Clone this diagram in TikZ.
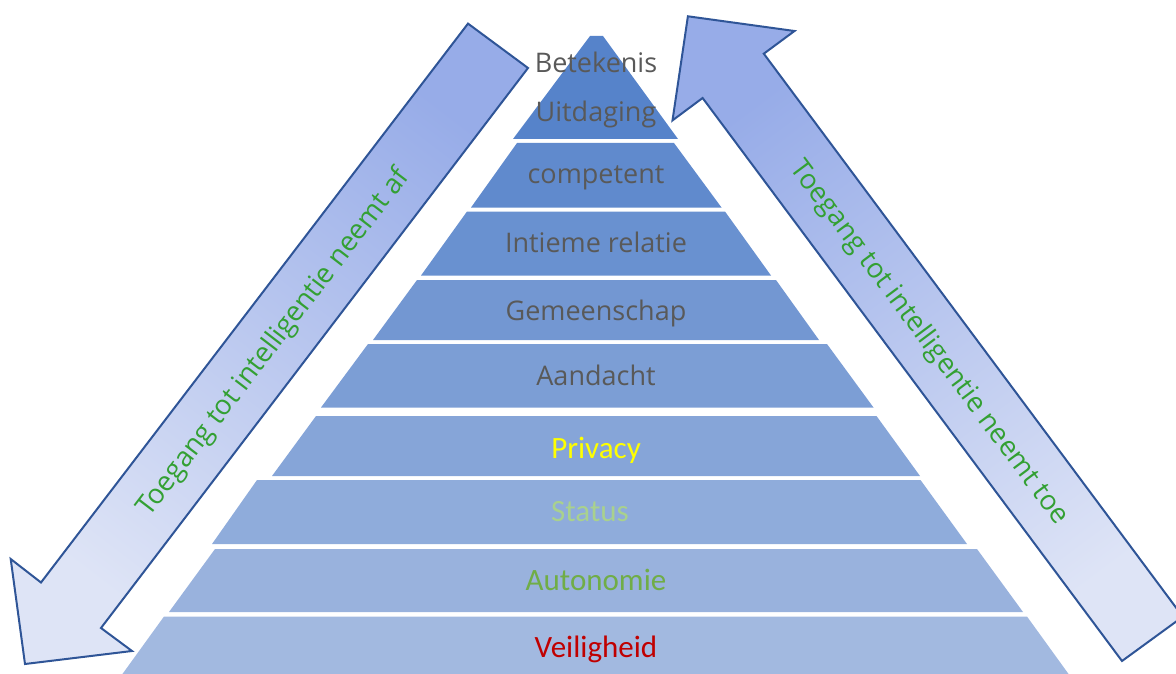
\documentclass[tikz,border=0pt]{standalone}
\usepackage{fontspec}
\newfontfamily\labfont{Open Sans}
\newfontfamily\calfontx{Carlito}
\definecolor{lA}{RGB}{86,131,202}
\definecolor{lB}{RGB}{96,138,205}
\definecolor{lC}{RGB}{105,145,208}
\definecolor{lD}{RGB}{115,151,210}
\definecolor{lE}{RGB}{124,158,213}
\definecolor{lF}{RGB}{134,165,216}
\definecolor{lG}{RGB}{143,172,219}
\definecolor{lH}{RGB}{153,178,221}
\definecolor{lI}{RGB}{162,185,224}
\definecolor{labgray}{RGB}{89,89,89}
\definecolor{agreen}{RGB}{51,160,51}
\definecolor{aline}{RGB}{47,85,151}
\definecolor{adark}{RGB}{151,172,232}
\definecolor{alight}{RGB}{222,228,246}
\definecolor{cyellow}{RGB}{255,255,0}
\definecolor{clgreen}{RGB}{169,209,142}
\definecolor{cgreen}{RGB}{112,173,71}
\definecolor{cred}{RGB}{192,0,0}
\begin{document}
\begin{tikzpicture}[x=1pt,y=-1pt,
  lab/.style={font=\labfont\fontsize{27}{30}\selectfont, text=labgray, anchor=base, inner sep=0pt},
  clab/.style={font=\calfontx\fontsize{31}{34}\selectfont, anchor=base, inner sep=0pt},
  arrowtext/.style={font=\labfont\fontsize{27.5}{30}\selectfont, text=agreen, inner sep=0pt},
  bigarrow/.style={draw=aline, line width=2pt, line join=miter}]
\useasboundingbox (0,0) rectangle (1176,674);
\clip (0,0) rectangle (1176,674);
% pyramid layers
\fill[lA] (590,36) -- (603,36) -- (678,139) -- (513,139) -- cycle;
\fill[lB] (517,143) -- (674,143) -- (721.5,207.5) -- (471,207.5) -- cycle;
\fill[lC] (467,211.5) -- (725,211.5) -- (771,275.5) -- (421,275.5) -- cycle;
\fill[lD] (417,280) -- (776,280) -- (819,340) -- (373,340) -- cycle;
\fill[lE] (368,344) -- (827,344) -- (873.5,407.5) -- (321,407.5) -- cycle;
\fill[lF] (316,416) -- (876.5,416) -- (920,476) -- (272,476) -- cycle;
\fill[lG] (257,480) -- (920.5,480) -- (967,544) -- (212,544) -- cycle;
\fill[lH] (215,549) -- (977,549) -- (1023,612) -- (169,612) -- cycle;
\fill[lI] (164,616.5) -- (1027,616.5) -- (1070,676) -- (121,676) -- cycle;
% left arrow (down-left)
\draw[bigarrow, top color=adark, bottom color=alight, shading angle=-37.4]
  (468,23.6) -- (528,68) -- (101,628) -- (132,651) -- (25,664) -- (10.7,559) -- (41,582.5) -- cycle;
% right arrow (up-left)
\draw[bigarrow, top color=adark, bottom color=alight, shading angle=36.7]
  (687.9,16.3) -- (794.5,31) -- (763.8,53.7) -- (1182.8,616.7) -- (1122,661) -- (702.6,98) -- (672.5,120.4) -- cycle;
% labels
\node[lab] (t1) at (596,72.5) {Betekenis};
\node[lab] (t2) at (596,121.5) {Uitdaging};
\node[lab] (t3) at (596,184) {competent};
\node[lab] (t4) at (596,252.5) {Intieme relatie};
\node[lab] (t5) at (596,320) {Gemeenschap};
\node[lab] (t6) at (596,385) {Aandacht};
\node[clab, text=cyellow] (t7) at (596,458) {Privacy};
\node[clab, text=clgreen] (t8) at (590,521) {Status};
\node[clab, text=cgreen] (t9) at (596,590.5) {Autonomie};
\node[clab, text=cred] (t10) at (596,657) {Veiligheid};
% arrow texts
\node[arrowtext, rotate=52.6] (la) at (274,343) {Toegang tot intelligentie neemt af};
\node[arrowtext, rotate=-53.3] (ra) at (929,343) {Toegang tot intelligentie neemt toe};
\end{tikzpicture}
\end{document}
